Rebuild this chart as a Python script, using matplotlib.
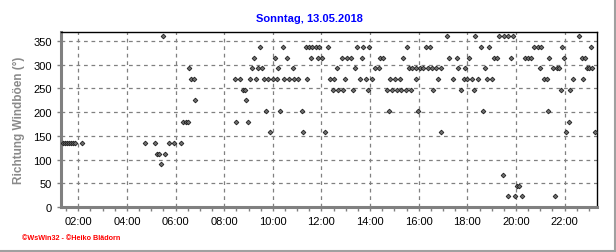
import matplotlib
matplotlib.use("Agg")
import matplotlib.pyplot as plt
import numpy as np
from matplotlib.lines import Line2D
from matplotlib.ticker import MultipleLocator, FuncFormatter

plt.rcParams['font.family'] = ['Liberation Sans', 'DejaVu Sans']

# Sonntag, 13.05.2018 - gust direction readings (hour of day, degrees)
hours = [
    1.38, 1.46, 1.54, 1.62, 1.70, 1.78, 1.86, 2.17,
    4.76, 5.17, 5.24, 5.33, 5.42, 5.50, 5.58, 5.73, 5.93, 6.24,
    6.32, 6.42, 6.51, 6.57, 6.64, 6.76, 6.81,
    8.45, 8.50, 8.65, 8.76, 8.84, 8.90, 8.99, 9.07, 9.16, 9.24,
    9.30, 9.37, 9.48, 9.57, 9.64, 9.74, 9.82, 9.90, 10.00, 10.07,
    10.16, 10.23, 10.31, 10.40, 10.48, 10.60, 10.67, 10.85, 10.88, 11.05,
    11.18, 11.26, 11.35, 11.40, 11.49, 11.58, 11.63, 11.77, 11.85, 11.91,
    12.04, 12.16, 12.26, 12.35, 12.47, 12.52, 12.63, 12.66, 12.84, 12.88,
    12.98, 13.05, 13.21, 13.29, 13.39, 13.46, 13.59, 13.66, 13.69, 13.84,
    13.90, 13.97, 14.06, 14.21, 14.35, 14.42, 14.55, 14.69, 14.76, 14.83,
    14.90, 15.03, 15.10, 15.24, 15.28, 15.34, 15.47, 15.50, 15.58, 15.68,
    15.72, 15.90, 15.90, 15.99, 16.04, 16.17, 16.31, 16.38, 16.48, 16.54,
    16.57, 16.72, 16.80, 16.91, 16.93, 17.16, 17.23, 17.39, 17.57, 17.61,
    17.72, 17.85, 17.91, 18.00, 18.05, 18.18, 18.26, 18.33, 18.43, 18.57,
    18.66, 18.74, 18.81, 18.90, 19.00, 19.08, 19.22, 19.31, 19.47, 19.51,
    19.65, 19.67, 19.81, 19.88, 19.97, 20.04, 20.12, 20.24, 20.36, 20.50,
    20.61, 20.75, 20.89, 20.98, 21.02, 21.16, 21.26, 21.30, 21.37, 21.53,
    21.59, 21.67, 21.76, 21.83, 21.90, 21.98, 22.07, 22.16, 22.22, 22.33,
    22.59, 22.70, 22.74, 22.83, 22.90, 23.00, 23.08, 23.12, 23.23,
]
direction = [
    135, 135, 135, 135, 135, 135, 135, 135,
    135, 135, 112.5, 112.5, 90, 360, 112.5, 135, 135, 135,
    180, 180, 180, 292.5, 270, 270, 225,
    270, 180, 270, 247.5, 247.5, 225, 180, 270, 292.5, 315,
    270, 292.5, 337.5, 292.5, 270, 202.5, 270, 157.5, 270, 315,
    270, 292.5, 202.5, 337.5, 270, 315, 270, 292.5, 270, 270,
    202.5, 157.5, 337.5, 270, 337.5, 315, 337.5, 337.5, 315, 337.5,
    315, 157.5, 337.5, 270, 247.5, 270, 292.5, 247.5, 315, 247.5,
    270, 315, 315, 247.5, 292.5, 337.5, 270, 315, 337.5, 270,
    247.5, 337.5, 270, 292.5, 292.5, 315, 315, 247.5, 202.5, 270,
    247.5, 270, 247.5, 270, 247.5, 315, 247.5, 337.5, 292.5, 247.5,
    292.5, 292.5, 270, 202.5, 292.5, 292.5, 337.5, 292.5, 337.5, 292.5,
    247.5, 292.5, 270, 157.5, 292.5, 360, 315, 270, 315, 292.5,
    247.5, 270, 292.5, 270, 315, 270, 247.5, 360, 270, 337.5,
    202.5, 292.5, 270, 337.5, 270, 315, 315, 360, 67.5, 360,
    22.5, 360, 315, 360, 22.5, 45, 45, 22.5, 315, 315,
    315, 337.5, 337.5, 292.5, 337.5, 270, 270, 202.5, 315, 292.5,
    22.5, 292.5, 292.5, 247.5, 337.5, 315, 157.5, 180, 247.5, 270,
    360, 315, 270, 315, 292.5, 292.5, 337.5, 292.5, 157.5,
]

y_ticks = [0, 50, 100, 150, 200, 250, 300, 350]
x_ticks = [2, 4, 6, 8, 10, 12, 14, 16, 18, 20, 22]

fig = plt.figure(figsize=(6.16, 2.53), dpi=100)
ax = fig.add_axes([61 / 616, 1 - 208 / 253, 536 / 616, 175 / 253])

ax.plot(hours, direction, linestyle='none', marker='D', markersize=2.4,
        markerfacecolor='#707070', markeredgecolor='#1e1e1e', markeredgewidth=0.6,
        zorder=3)

ax.set_xlim(1.29, 23.33)
ax.set_ylim(0, 369)

ax.set_xticks(x_ticks)
ax.xaxis.set_major_formatter(FuncFormatter(lambda v, p: f'{int(round(v)):02d}:00'))
ax.xaxis.set_minor_locator(MultipleLocator(0.5))
ax.set_yticks(y_ticks)

ax.grid(True, which='major', color='#808080', linestyle=(0, (3, 3)), linewidth=0.9)

ax.tick_params(axis='both', which='major', direction='out', length=3, width=1,
               color='#808080', labelsize=8, labelcolor='black')
ax.tick_params(axis='x', which='minor', direction='out', length=3, width=1,
               color='#808080')
ax.tick_params(axis='x', which='major', pad=3.5)
ax.tick_params(axis='y', which='major', pad=3.5)

for side in ['left', 'bottom']:
    ax.spines[side].set_color('#808080')
    ax.spines[side].set_linewidth(2.2)
for side in ['top', 'right']:
    ax.spines[side].set_color('black')
    ax.spines[side].set_linewidth(1.0)

ax.set_ylabel('Richtung Windböen (°)', color='#8a8a8a', fontsize=8.5,
              fontweight='bold', labelpad=6)

fig.text(309 / 616, 1 - 19 / 253, 'Sonntag, 13.05.2018', color='#0000ff',
         fontsize=8, fontweight='bold', ha='center', va='center')
fig.text(22 / 616, 1 - 239 / 253, '©WsWin32 - ©Heiko Blädorn', color='#ff0000',
         fontsize=5.2, fontweight='bold', ha='left', va='center')

# panel frame at right and bottom edges
fig.add_artist(Line2D([0, 614.5 / 616], [1.5 / 253, 1.5 / 253], color='#a0a0a0',
                      linewidth=1.5, transform=fig.transFigure))
fig.add_artist(Line2D([614.5 / 616, 614.5 / 616], [1.5 / 253, 1], color='#a0a0a0',
                      linewidth=1.5, transform=fig.transFigure))

fig.savefig('out.png', dpi=100, facecolor='white')
